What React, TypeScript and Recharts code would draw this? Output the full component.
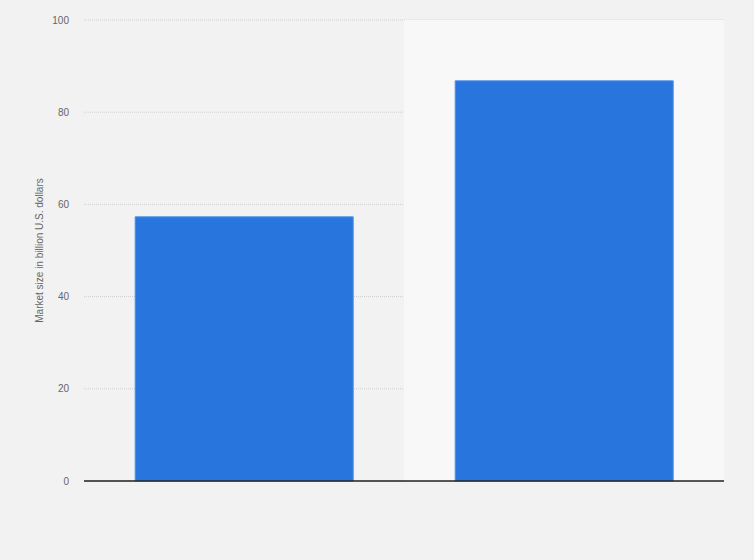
import React from 'react';
import { BarChart, Bar, XAxis, YAxis, CartesianGrid, ReferenceArea, Label } from 'recharts';

const categories = ['A', 'B'];
const marketSize = [57.3, 86.8];
const yTicks = [0, 20, 40, 60, 80, 100];

const data = categories.map((c, i) => ({ name: c, value: marketSize[i] }));

export default function App() {
  return (
    <div style={{ position: 'absolute', left: 0, top: 0, width: 754, height: 560, background: '#f2f2f2' }}>
      <BarChart
        width={754}
        height={560}
        data={data}
        margin={{ top: 20, right: 30, bottom: 78, left: 0 }}
        barCategoryGap="16%"
      >
        <ReferenceArea x1="B" x2="B" fill="#f8f8f8" fillOpacity={1} stroke="none" ifOverflow="visible" />
        <CartesianGrid vertical={false} stroke="#d0d0d0" strokeDasharray="1 1" />
        <XAxis dataKey="name" tick={false} tickLine={false} axisLine={{ stroke: '#222', strokeWidth: 1.5 }} height={1} />
        <YAxis
          width={84}
          domain={[0, 100]}
          ticks={yTicks}
          axisLine={false}
          tickLine={false}
          tickSize={0}
          tickMargin={15}
          tick={{ fill: '#666', fontSize: 10, fontFamily: 'Arial, Liberation Sans, sans-serif' }}
        >
          <Label
            value="Market size in billion U.S. dollars"
            angle={-90}
            position="insideLeft"
            offset={39}
            style={{ fill: '#666', fontSize: 10, fontFamily: 'Arial, Liberation Sans, sans-serif', textAnchor: 'middle' }}
          />
        </YAxis>
        <Bar dataKey="value" fill="#2876dd" stroke="#4a8fe8" strokeWidth={1} isAnimationActive={false} />
      </BarChart>
    </div>
  );
}
